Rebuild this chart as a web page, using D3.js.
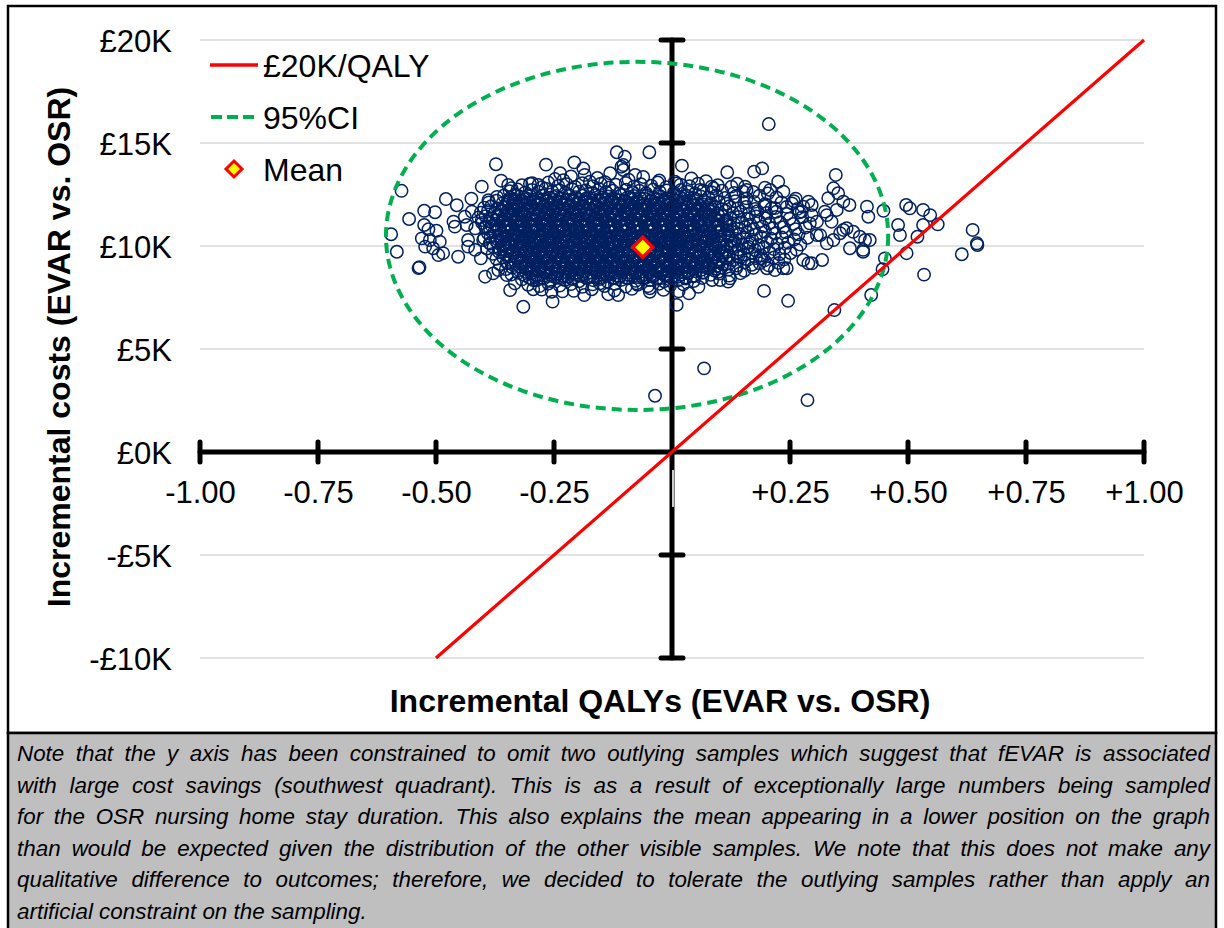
<!DOCTYPE html>
<html>
<head>
<meta charset="utf-8">
<script src="https://cdn.jsdelivr.net/npm/d3@7"></script>
<style>
  html, body { margin: 0; padding: 0; background: #ffffff; }
  svg { display: block; }
  text { font-family: "Liberation Sans", Arial, sans-serif; }
</style>
</head>
<body>
<svg id="chart" width="1224" height="928"></svg>
<script>
// ---------------- DATA ----------------
const xTickValues = [-1, -0.75, -0.5, -0.25, 0, 0.25, 0.5, 0.75, 1];
const xTickLabels = ["-1.00", "-0.75", "-0.50", "-0.25", "", "+0.25", "+0.50", "+0.75", "+1.00"];
const yTickValues = [20, 15, 10, 5, 0, -5, -10];            // £ thousands
const yTickLabels = ["£20K", "£15K", "£10K", "£5K", "£0K", "-£5K", "-£10K"];
const legendLabels = ["£20K/QALY", "95%CI", "Mean"];
const xTitle = "Incremental QALYs (EVAR vs. OSR)";
const yTitle = "Incremental costs (EVAR vs. OSR)";
const wtpThreshold = 20;                 // £K per QALY
const wtpLineQaly = [-0.5, 1.0];         // extent of the threshold line
const meanPoint = [-0.062, 9.94];        // [QALY, £K]
const ciCenter = [-0.074, 10.49];        // 95% CI ellipse centre [QALY, £K]
const ciRadii = [0.532, 8.45];           // ellipse half-widths [QALY, £K]
const noteLines = [
  "Note that the y axis has been constrained to omit two outlying samples which suggest that fEVAR is associated",
  "with large cost savings (southwest quadrant). This is as a result of exceptionally large numbers being sampled",
  "for the OSR nursing home stay duration. This also explains the mean appearing in a lower position on the graph",
  "than would be expected given the distribution of the other visible samples. We note that this does not make any",
  "qualitative difference to outcomes; therefore, we decided to tolerate the outlying samples rather than apply an",
  "artificial constraint on the sampling."
];

// Sparse / outer samples [incremental QALY, incremental cost £K]
const outerSamples = [
[-0.373,13.97],[-0.573,12.68],[-0.557,11.31],[-0.595,10.57],[-0.583,9.72],[-0.535,8.97],[-0.537,8.93],
[-0.525,11.71],[-0.502,11.64],[-0.479,12.28],[-0.456,11.98],[-0.425,12.30],[-0.389,12.22],[-0.403,12.88],
[-0.362,13.17],[-0.347,12.96],[-0.340,12.80],[-0.525,11.02],[-0.516,10.81],[-0.499,10.74],[-0.530,10.37],
[-0.513,10.29],[-0.492,10.21],[-0.523,9.97],[-0.506,9.89],[-0.485,9.65],[-0.495,9.56],[-0.453,9.48],
[-0.460,10.94],[-0.463,11.18],[-0.439,11.42],[-0.424,11.67],[-0.435,11.02],[-0.417,10.86],[-0.403,11.26],
[-0.432,10.29],[-0.432,9.97],[-0.417,9.81],[-0.396,10.94],[-0.386,10.86],[-0.400,10.29],[-0.386,10.13],
[-0.405,9.40],[-0.396,8.51],[-0.379,8.67],[-0.368,8.83],[-0.343,7.86],[-0.333,8.19],[-0.315,7.05],
[-0.350,8.59],[-0.357,11.26],[-0.347,12.23],[-0.333,12.48],
[-0.267,13.95],[-0.207,14.06],[-0.188,13.77],[-0.117,14.55],[-0.100,14.33],[-0.048,14.55],[-0.103,13.93],
[-0.103,13.69],[-0.131,13.53],[0.021,13.90],[-0.253,7.30],[-0.186,7.62],[-0.208,7.82],[-0.114,7.62],
[-0.135,7.66],[-0.047,7.78],[0.010,7.14],[-0.294,7.90],[-0.255,7.78],[-0.237,13.53],[-0.230,13.20],
[-0.283,12.96],[-0.174,13.12],[-0.078,13.45],[-0.107,13.85],[-0.294,8.35],[-0.153,8.19],[-0.075,8.19],
[-0.047,7.95],
[0.117,13.58],[0.174,13.61],[0.191,13.77],[0.197,12.83],[0.225,13.12],[0.236,12.64],[0.155,12.88],
[0.151,12.64],[0.126,12.88],[0.084,12.88],[0.010,13.04],[0.289,12.15],[0.296,11.99],[0.275,11.67],
[0.254,12.07],[0.211,11.83],[0.036,7.70],[0.195,7.82],[0.246,7.34],[0.102,8.35],[0.123,8.43],[0.119,8.27],
[0.201,8.92],[0.218,8.83],[0.236,8.92],[0.289,9.16],[0.278,9.32],[0.190,9.40],[0.162,9.97],[0.140,9.48],
[0.077,9.08],[0.052,9.16],[0.098,8.75],
[0.347,13.45],[0.342,12.80],[0.352,12.56],[0.331,12.32],[0.363,12.15],[0.376,11.99],[0.413,11.91],
[0.416,11.42],[0.448,11.71],[0.496,11.99],[0.504,11.83],[0.532,11.75],[0.547,11.50],[0.563,11.05],
[0.479,11.02],[0.483,10.53],[0.520,10.45],[0.532,11.02],[0.497,9.65],[0.637,10.78],[0.646,10.13],
[0.647,10.05],[0.614,9.60],[0.534,8.61],[0.451,9.40],[0.446,8.87],[0.422,7.62],[0.344,6.89],[0.318,9.32],
[0.296,9.16],[0.405,9.72],[0.419,10.29],[0.398,10.45],[0.377,9.89],[0.384,10.69],[0.370,10.86],[0.356,10.62],
[0.342,10.29],[0.328,10.13],[0.314,10.53],[0.307,11.18],[0.324,11.67],[0.338,11.18],[0.296,11.50],
[0.349,11.75],[0.292,11.10],[0.328,11.50],[0.278,11.91],[0.307,10.53],[0.208,12.72],[0.158,12.72],
[0.088,12.80],[0.059,12.72],[0.006,13.12],[0.409,10.29],[0.405,9.81],[0.363,10.78],[0.243,8.92],
[-0.036,2.73],[0.068,4.06],[0.287,2.52],[0.205,15.92]
];

// Dense core samples, first layer [incremental QALY, incremental cost £K]
const coreSamples = [
[-0.248,13.25],[-0.214,13.38],[-0.158,13.30],[-0.142,13.10],[-0.092,13.22],[-0.061,13.35],[-0.027,13.18],[0.041,13.28],[0.072,13.15],[-0.296,13.05],[-0.185,13.45],
[-0.318,12.95],[-0.301,13.02],[-0.276,12.85],[-0.262,13.08],[-0.241,12.92],[-0.223,13.0],[-0.205,12.87],[-0.19,13.05],[-0.168,12.9],[-0.151,13.02],[-0.133,12.84],[-0.119,12.97],[-0.098,13.06],[-0.081,12.88],[-0.066,13.0],[-0.044,12.93],[-0.03,13.08],[-0.012,12.86],[0.018,12.98],[0.037,12.9],[0.055,13.03],[0.097,12.95],[0.138,13.02],
[-0.344,12.66],[-0.327,12.74],[-0.311,12.6],[-0.297,12.72],[-0.283,12.63],[-0.268,12.78],[-0.254,12.65],[-0.239,12.71],[-0.226,12.58],[-0.211,12.75],[-0.197,12.64],[-0.183,12.7],[-0.169,12.57],[-0.154,12.76],[-0.14,12.62],[-0.126,12.69],[-0.112,12.55],[-0.097,12.73],[-0.083,12.61],[-0.069,12.68],[-0.055,12.56],[-0.04,12.74],[-0.026,12.63],[-0.011,12.7],[0.004,12.59],[0.019,12.72],[0.033,12.64],[0.049,12.55],[0.066,12.7],[0.085,12.6],[0.106,12.68],[0.131,12.57],[0.172,12.62],[0.203,12.55],
[-0.371,12.38],[-0.356,12.45],[-0.342,12.33],[-0.328,12.47],[-0.314,12.36],[-0.3,12.42],[-0.286,12.3],[-0.273,12.46],[-0.259,12.35],[-0.245,12.43],[-0.232,12.31],[-0.218,12.48],[-0.204,12.37],[-0.19,12.44],[-0.177,12.32],[-0.163,12.46],[-0.149,12.34],[-0.136,12.41],[-0.122,12.3],[-0.108,12.47],[-0.094,12.36],[-0.081,12.43],[-0.067,12.31],[-0.053,12.45],[-0.039,12.35],[-0.025,12.42],[-0.012,12.3],[0.003,12.46],[0.017,12.37],[0.031,12.44],[0.046,12.32],[0.061,12.41],[0.077,12.35],[0.094,12.45],[0.112,12.33],[0.134,12.4],[0.158,12.31],[0.185,12.44],[0.221,12.36],[0.262,12.3],
[-0.388,12.12],[-0.372,12.2],[-0.359,12.08],[-0.345,12.17],[-0.331,12.05],[-0.318,12.21],[-0.304,12.1],[-0.29,12.16],[-0.277,12.04],[-0.263,12.19],[-0.249,12.09],[-0.236,12.15],[-0.222,12.03],[-0.208,12.2],[-0.195,12.11],[-0.181,12.18],[-0.167,12.06],[-0.154,12.21],[-0.14,12.1],[-0.126,12.16],[-0.113,12.04],[-0.099,12.19],[-0.085,12.08],[-0.072,12.14],[-0.058,12.02],[-0.044,12.2],[-0.031,12.09],[-0.017,12.17],[-0.003,12.05],[0.011,12.2],[0.025,12.1],[0.039,12.16],[0.054,12.04],[0.068,12.19],[0.083,12.08],[0.099,12.15],[0.116,12.05],[0.134,12.18],[0.153,12.09],[0.174,12.14],[0.197,12.03],[0.232,12.12],[0.258,12.18],
[-0.398,11.86],[-0.383,11.93],[-0.369,11.82],[-0.355,11.9],[-0.341,11.8],[-0.327,11.95],[-0.314,11.84],[-0.3,11.91],[-0.286,11.79],[-0.272,11.94],[-0.259,11.83],[-0.245,11.89],[-0.231,11.78],[-0.217,11.95],[-0.204,11.85],[-0.19,11.92],[-0.176,11.8],[-0.162,11.94],[-0.149,11.84],[-0.135,11.9],[-0.121,11.79],[-0.107,11.96],[-0.094,11.83],[-0.08,11.91],[-0.066,11.8],[-0.052,11.95],[-0.039,11.84],[-0.025,11.9],[-0.011,11.78],[0.003,11.94],[0.017,11.83],[0.031,11.9],[0.046,11.8],[0.06,11.95],[0.075,11.85],[0.09,11.91],[0.106,11.79],[0.122,11.93],[0.139,11.82],[0.157,11.9],[0.176,11.8],[0.196,11.94],[0.218,11.84],[0.243,11.9],[0.266,11.8],
[-0.405,11.62],[-0.39,11.7],[-0.376,11.58],[-0.362,11.67],[-0.348,11.55],[-0.334,11.71],[-0.321,11.6],[-0.307,11.66],[-0.293,11.54],[-0.279,11.7],[-0.266,11.59],[-0.252,11.65],[-0.238,11.53],[-0.224,11.71],[-0.211,11.61],[-0.197,11.68],[-0.183,11.56],[-0.169,11.7],[-0.156,11.6],[-0.142,11.66],[-0.128,11.54],[-0.114,11.72],[-0.101,11.59],[-0.087,11.67],[-0.073,11.55],[-0.059,11.71],[-0.046,11.6],[-0.032,11.66],[-0.018,11.54],[-0.004,11.7],[0.01,11.59],[0.024,11.67],[0.038,11.56],[0.053,11.71],[0.067,11.61],[0.082,11.67],[0.097,11.55],[0.113,11.7],[0.129,11.59],[0.146,11.66],[0.163,11.55],[0.181,11.69],[0.2,11.6],[0.221,11.66],[0.244,11.56],[0.27,11.64],
[-0.41,11.38],[-0.395,11.45],[-0.381,11.33],[-0.367,11.42],[-0.353,11.3],[-0.339,11.46],[-0.326,11.35],[-0.312,11.41],[-0.298,11.29],[-0.284,11.45],[-0.271,11.34],[-0.257,11.4],[-0.243,11.28],[-0.229,11.46],[-0.216,11.36],[-0.202,11.43],[-0.188,11.31],[-0.174,11.45],[-0.161,11.35],[-0.147,11.41],[-0.133,11.29],[-0.119,11.47],[-0.106,11.34],[-0.092,11.42],[-0.078,11.3],[-0.064,11.46],[-0.051,11.35],[-0.037,11.41],[-0.023,11.29],[-0.009,11.45],[0.005,11.34],[0.019,11.42],[0.033,11.31],[0.048,11.46],[0.062,11.36],[0.077,11.42],[0.092,11.3],[0.108,11.45],[0.124,11.34],[0.141,11.41],[0.159,11.3],[0.178,11.44],[0.198,11.35],[0.22,11.41],[0.249,11.32],[0.276,11.4],
[-0.402,11.12],[-0.388,11.2],[-0.374,11.08],[-0.36,11.17],[-0.346,11.05],[-0.332,11.21],[-0.319,11.1],[-0.305,11.16],[-0.291,11.04],[-0.277,11.2],[-0.264,11.09],[-0.25,11.15],[-0.236,11.03],[-0.222,11.21],[-0.209,11.11],[-0.195,11.18],[-0.181,11.06],[-0.167,11.2],[-0.154,11.1],[-0.14,11.16],[-0.126,11.04],[-0.112,11.22],[-0.099,11.09],[-0.085,11.17],[-0.071,11.05],[-0.057,11.21],[-0.044,11.1],[-0.03,11.16],[-0.016,11.04],[-0.002,11.2],[0.012,11.09],[0.026,11.17],[0.04,11.06],[0.055,11.21],[0.069,11.11],[0.084,11.17],[0.099,11.05],[0.115,11.2],[0.131,11.09],[0.148,11.16],[0.166,11.05],[0.185,11.19],[0.206,11.1],[0.229,11.16],[0.257,11.07],
[-0.395,10.88],[-0.381,10.95],[-0.367,10.83],[-0.353,10.92],[-0.339,10.8],[-0.325,10.96],[-0.312,10.85],[-0.298,10.91],[-0.284,10.79],[-0.27,10.95],[-0.257,10.84],[-0.243,10.9],[-0.229,10.78],[-0.215,10.96],[-0.202,10.86],[-0.188,10.93],[-0.174,10.81],[-0.16,10.95],[-0.147,10.85],[-0.133,10.91],[-0.119,10.79],[-0.105,10.97],[-0.092,10.84],[-0.078,10.92],[-0.064,10.8],[-0.05,10.96],[-0.037,10.85],[-0.023,10.91],[-0.009,10.79],[0.005,10.95],[0.019,10.84],[0.033,10.92],[0.047,10.81],[0.062,10.96],[0.076,10.86],[0.091,10.92],[0.106,10.8],[0.122,10.95],[0.138,10.84],[0.155,10.91],[0.173,10.8],[0.192,10.94],[0.213,10.85],[0.236,10.91],[0.262,10.82],[0.283,10.9],
[-0.39,10.62],[-0.376,10.7],[-0.362,10.58],[-0.348,10.67],[-0.334,10.55],[-0.32,10.71],[-0.307,10.6],[-0.293,10.66],[-0.279,10.54],[-0.265,10.7],[-0.252,10.59],[-0.238,10.65],[-0.224,10.53],[-0.21,10.71],[-0.197,10.61],[-0.183,10.68],[-0.169,10.56],[-0.155,10.7],[-0.142,10.6],[-0.128,10.66],[-0.114,10.54],[-0.1,10.72],[-0.087,10.59],[-0.073,10.67],[-0.059,10.55],[-0.045,10.71],[-0.032,10.6],[-0.018,10.66],[-0.004,10.54],[0.01,10.7],[0.024,10.59],[0.038,10.67],[0.052,10.56],[0.067,10.71],[0.081,10.61],[0.096,10.67],[0.111,10.55],[0.127,10.7],[0.143,10.59],[0.16,10.66],[0.178,10.55],[0.197,10.69],[0.218,10.6],[0.241,10.66],[0.268,10.57],
[-0.398,10.38],[-0.384,10.45],[-0.37,10.33],[-0.356,10.42],[-0.342,10.3],[-0.328,10.46],[-0.315,10.35],[-0.301,10.41],[-0.287,10.29],[-0.273,10.45],[-0.26,10.34],[-0.246,10.4],[-0.232,10.28],[-0.218,10.46],[-0.205,10.36],[-0.191,10.43],[-0.177,10.31],[-0.163,10.45],[-0.15,10.35],[-0.136,10.41],[-0.122,10.29],[-0.108,10.47],[-0.095,10.34],[-0.081,10.42],[-0.067,10.3],[-0.053,10.46],[-0.04,10.35],[-0.026,10.41],[-0.012,10.29],[0.002,10.45],[0.016,10.34],[0.03,10.42],[0.044,10.31],[0.059,10.46],[0.073,10.36],[0.088,10.42],[0.103,10.3],[0.119,10.45],[0.135,10.34],[0.152,10.41],[0.17,10.3],[0.189,10.44],[0.21,10.35],[0.233,10.41],[0.259,10.32],[0.287,10.4],
[-0.385,10.12],[-0.371,10.2],[-0.357,10.08],[-0.343,10.17],[-0.329,10.05],[-0.315,10.21],[-0.302,10.1],[-0.288,10.16],[-0.274,10.04],[-0.26,10.2],[-0.247,10.09],[-0.233,10.15],[-0.219,10.03],[-0.205,10.21],[-0.192,10.11],[-0.178,10.18],[-0.164,10.06],[-0.15,10.2],[-0.137,10.1],[-0.123,10.16],[-0.109,10.04],[-0.095,10.22],[-0.082,10.09],[-0.068,10.17],[-0.054,10.05],[-0.04,10.21],[-0.027,10.1],[-0.013,10.16],[0.001,10.04],[0.015,10.2],[0.029,10.09],[0.043,10.17],[0.057,10.06],[0.072,10.21],[0.086,10.11],[0.101,10.17],[0.116,10.05],[0.132,10.2],[0.148,10.09],[0.165,10.16],[0.183,10.05],[0.202,10.19],[0.223,10.1],[0.246,10.16],[0.272,10.07],
[-0.392,9.88],[-0.378,9.95],[-0.364,9.83],[-0.35,9.92],[-0.336,9.8],[-0.322,9.96],[-0.309,9.85],[-0.295,9.91],[-0.281,9.79],[-0.267,9.95],[-0.254,9.84],[-0.24,9.9],[-0.226,9.78],[-0.212,9.96],[-0.199,9.86],[-0.185,9.93],[-0.171,9.81],[-0.157,9.95],[-0.144,9.85],[-0.13,9.91],[-0.116,9.79],[-0.102,9.97],[-0.089,9.84],[-0.075,9.92],[-0.061,9.8],[-0.047,9.96],[-0.034,9.85],[-0.02,9.91],[-0.006,9.79],[0.008,9.95],[0.022,9.84],[0.036,9.92],[0.05,9.81],[0.065,9.96],[0.079,9.86],[0.094,9.92],[0.109,9.8],[0.125,9.95],[0.141,9.84],[0.158,9.91],[0.176,9.8],[0.195,9.94],[0.216,9.85],[0.239,9.91],[0.264,9.82],
[-0.38,9.62],[-0.366,9.7],[-0.352,9.58],[-0.338,9.67],[-0.324,9.55],[-0.31,9.71],[-0.297,9.6],[-0.283,9.66],[-0.269,9.54],[-0.255,9.7],[-0.242,9.59],[-0.228,9.65],[-0.214,9.53],[-0.2,9.71],[-0.187,9.61],[-0.173,9.68],[-0.159,9.56],[-0.145,9.7],[-0.132,9.6],[-0.118,9.66],[-0.104,9.54],[-0.09,9.72],[-0.077,9.59],[-0.063,9.67],[-0.049,9.55],[-0.035,9.71],[-0.022,9.6],[-0.008,9.66],[0.006,9.54],[0.02,9.7],[0.034,9.59],[0.048,9.67],[0.062,9.56],[0.077,9.71],[0.091,9.61],[0.106,9.67],[0.121,9.55],[0.137,9.7],[0.153,9.59],[0.17,9.66],[0.188,9.55],[0.207,9.69],[0.228,9.6],[0.251,9.66],
[-0.372,9.38],[-0.358,9.45],[-0.344,9.33],[-0.33,9.42],[-0.316,9.3],[-0.302,9.46],[-0.289,9.35],[-0.275,9.41],[-0.261,9.29],[-0.247,9.45],[-0.234,9.34],[-0.22,9.4],[-0.206,9.28],[-0.192,9.46],[-0.179,9.36],[-0.165,9.43],[-0.151,9.31],[-0.137,9.45],[-0.124,9.35],[-0.11,9.41],[-0.096,9.29],[-0.082,9.47],[-0.069,9.34],[-0.055,9.42],[-0.041,9.3],[-0.027,9.46],[-0.014,9.35],[0.0,9.41],[0.014,9.29],[0.028,9.45],[0.042,9.34],[0.056,9.42],[0.07,9.31],[0.085,9.46],[0.099,9.36],[0.114,9.42],[0.129,9.3],[0.145,9.45],[0.161,9.34],[0.178,9.41],[0.196,9.3],[0.216,9.44],[0.238,9.35],
[-0.365,9.12],[-0.35,9.2],[-0.336,9.08],[-0.322,9.17],[-0.308,9.05],[-0.294,9.21],[-0.281,9.1],[-0.267,9.16],[-0.253,9.04],[-0.239,9.2],[-0.226,9.09],[-0.212,9.15],[-0.198,9.03],[-0.184,9.21],[-0.171,9.11],[-0.157,9.18],[-0.143,9.06],[-0.129,9.2],[-0.116,9.1],[-0.102,9.16],[-0.088,9.04],[-0.074,9.22],[-0.061,9.09],[-0.047,9.17],[-0.033,9.05],[-0.019,9.21],[-0.006,9.1],[0.008,9.16],[0.022,9.04],[0.036,9.2],[0.05,9.09],[0.064,9.17],[0.078,9.06],[0.093,9.21],[0.107,9.11],[0.122,9.17],[0.137,9.05],[0.153,9.2],[0.169,9.09],[0.186,9.16],[0.205,9.06],[0.226,9.18],
[-0.352,8.88],[-0.338,8.95],[-0.324,8.83],[-0.31,8.92],[-0.296,8.8],[-0.282,8.96],[-0.269,8.85],[-0.255,8.91],[-0.241,8.79],[-0.227,8.95],[-0.214,8.84],[-0.2,8.9],[-0.186,8.78],[-0.172,8.96],[-0.159,8.86],[-0.145,8.93],[-0.131,8.81],[-0.117,8.95],[-0.104,8.85],[-0.09,8.91],[-0.076,8.79],[-0.062,8.97],[-0.049,8.84],[-0.035,8.92],[-0.021,8.8],[-0.007,8.96],[0.006,8.85],[0.02,8.91],[0.034,8.79],[0.048,8.95],[0.062,8.84],[0.076,8.92],[0.09,8.81],[0.105,8.96],[0.12,8.86],[0.136,8.92],[0.153,8.8],[0.172,8.94],
[-0.34,8.62],[-0.326,8.7],[-0.312,8.58],[-0.298,8.67],[-0.284,8.55],[-0.27,8.71],[-0.257,8.6],[-0.243,8.66],[-0.229,8.54],[-0.215,8.7],[-0.202,8.59],[-0.188,8.65],[-0.174,8.53],[-0.16,8.71],[-0.147,8.61],[-0.133,8.68],[-0.119,8.56],[-0.105,8.7],[-0.092,8.6],[-0.078,8.66],[-0.064,8.54],[-0.05,8.72],[-0.037,8.59],[-0.023,8.67],[-0.009,8.55],[0.005,8.71],[0.019,8.61],[0.034,8.67],[0.049,8.55],[0.065,8.7],[0.082,8.6],[0.1,8.66],[0.121,8.56],[0.145,8.68],
[-0.318,8.38],[-0.302,8.45],[-0.287,8.33],[-0.272,8.42],[-0.257,8.3],[-0.242,8.46],[-0.227,8.35],[-0.212,8.41],[-0.197,8.29],[-0.182,8.45],[-0.167,8.34],[-0.152,8.4],[-0.137,8.28],[-0.122,8.46],[-0.107,8.36],[-0.092,8.43],[-0.077,8.31],[-0.062,8.45],[-0.047,8.35],[-0.032,8.41],[-0.017,8.29],[-0.002,8.47],[0.013,8.34],[0.029,8.42],[0.046,8.3],[0.064,8.45],[0.085,8.35],
[-0.305,8.12],[-0.281,8.05],[-0.262,8.18],[-0.238,8.08],[-0.214,8.15],[-0.19,8.02],[-0.168,8.14],[-0.143,8.06],[-0.121,8.16],[-0.098,8.03],[-0.073,8.12],[-0.051,8.05],[-0.027,8.17],[-0.004,8.08],[0.024,8.14],[0.056,8.02],
[-0.276,7.88],[-0.232,7.8],[-0.17,7.9],[-0.122,7.84],[-0.085,7.92],[-0.018,7.87],[0.014,7.8]
];

// Dense core samples, second (interleaved) layer
const coreSamples2 = [
[-0.335,12.27],[-0.321,12.22],[-0.307,12.3],[-0.293,12.25],[-0.279,12.2],[-0.266,12.29],[-0.252,12.24],[-0.238,12.31],[-0.224,12.21],[-0.211,12.27],[-0.197,12.23],[-0.183,12.3],[-0.169,12.2],[-0.156,12.26],[-0.142,12.22],[-0.128,12.29],[-0.114,12.24],[-0.101,12.2],[-0.087,12.28],[-0.073,12.23],[-0.059,12.3],[-0.046,12.21],[-0.032,12.27],[-0.018,12.24],[-0.004,12.29],[0.009,12.22],[0.023,12.28],[0.037,12.2],[0.052,12.26],
[-0.352,12.0],[-0.338,11.96],[-0.324,12.04],[-0.31,11.99],[-0.297,11.95],[-0.283,12.03],[-0.269,11.98],[-0.255,12.05],[-0.242,11.96],[-0.228,12.01],[-0.214,11.97],[-0.2,12.04],[-0.187,11.95],[-0.173,12.0],[-0.159,11.96],[-0.145,12.03],[-0.132,11.98],[-0.118,11.95],[-0.104,12.02],[-0.09,11.97],[-0.077,12.05],[-0.063,11.96],[-0.049,12.01],[-0.035,11.98],[-0.022,12.03],[-0.008,11.96],[0.006,12.02],[0.02,11.95],[0.034,12.0],[0.049,11.97],[0.064,12.03],[0.08,11.96],
[-0.362,11.75],[-0.348,11.71],[-0.334,11.79],[-0.32,11.74],[-0.307,11.7],[-0.293,11.78],[-0.279,11.73],[-0.265,11.8],[-0.252,11.71],[-0.238,11.76],[-0.224,11.72],[-0.21,11.79],[-0.197,11.7],[-0.183,11.75],[-0.169,11.71],[-0.155,11.78],[-0.142,11.73],[-0.128,11.7],[-0.114,11.77],[-0.1,11.72],[-0.087,11.8],[-0.073,11.71],[-0.059,11.76],[-0.045,11.73],[-0.032,11.78],[-0.018,11.71],[-0.004,11.77],[0.01,11.7],[0.024,11.75],[0.039,11.72],[0.054,11.78],[0.07,11.71],[0.087,11.76],
[-0.369,11.5],[-0.355,11.46],[-0.341,11.54],[-0.327,11.49],[-0.314,11.45],[-0.3,11.53],[-0.286,11.48],[-0.272,11.55],[-0.259,11.46],[-0.245,11.51],[-0.231,11.47],[-0.217,11.54],[-0.204,11.45],[-0.19,11.5],[-0.176,11.46],[-0.162,11.53],[-0.149,11.48],[-0.135,11.45],[-0.121,11.52],[-0.107,11.47],[-0.094,11.55],[-0.08,11.46],[-0.066,11.51],[-0.052,11.48],[-0.039,11.53],[-0.025,11.46],[-0.011,11.52],[0.003,11.45],[0.017,11.5],[0.032,11.47],[0.047,11.53],[0.063,11.46],[0.08,11.51],[0.098,11.47],
[-0.372,11.25],[-0.358,11.21],[-0.344,11.29],[-0.33,11.24],[-0.317,11.2],[-0.303,11.28],[-0.289,11.23],[-0.275,11.3],[-0.262,11.21],[-0.248,11.26],[-0.234,11.22],[-0.22,11.29],[-0.207,11.2],[-0.193,11.25],[-0.179,11.21],[-0.165,11.28],[-0.152,11.23],[-0.138,11.2],[-0.124,11.27],[-0.11,11.22],[-0.097,11.3],[-0.083,11.21],[-0.069,11.26],[-0.055,11.23],[-0.042,11.28],[-0.028,11.21],[-0.014,11.27],[0.0,11.2],[0.014,11.25],[0.029,11.22],[0.044,11.28],[0.06,11.21],[0.077,11.26],[0.095,11.22],[0.114,11.27],
[-0.37,11.0],[-0.356,10.96],[-0.342,11.04],[-0.328,10.99],[-0.315,10.95],[-0.301,11.03],[-0.287,10.98],[-0.273,11.05],[-0.26,10.96],[-0.246,11.01],[-0.232,10.97],[-0.218,11.04],[-0.205,10.95],[-0.191,11.0],[-0.177,10.96],[-0.163,11.03],[-0.15,10.98],[-0.136,10.95],[-0.122,11.02],[-0.108,10.97],[-0.095,11.05],[-0.081,10.96],[-0.067,11.01],[-0.053,10.98],[-0.04,11.03],[-0.026,10.96],[-0.012,11.02],[0.002,10.95],[0.016,11.0],[0.031,10.97],[0.046,11.03],[0.062,10.96],[0.079,11.01],[0.097,10.97],[0.116,11.02],
[-0.368,10.75],[-0.354,10.71],[-0.34,10.79],[-0.326,10.74],[-0.313,10.7],[-0.299,10.78],[-0.285,10.73],[-0.271,10.8],[-0.258,10.71],[-0.244,10.76],[-0.23,10.72],[-0.216,10.79],[-0.203,10.7],[-0.189,10.75],[-0.175,10.71],[-0.161,10.78],[-0.148,10.73],[-0.134,10.7],[-0.12,10.77],[-0.106,10.72],[-0.093,10.8],[-0.079,10.71],[-0.065,10.76],[-0.051,10.73],[-0.038,10.78],[-0.024,10.71],[-0.01,10.77],[0.004,10.7],[0.018,10.75],[0.033,10.72],[0.048,10.78],[0.064,10.71],[0.081,10.76],[0.099,10.72],[0.118,10.77],
[-0.366,10.5],[-0.352,10.46],[-0.338,10.54],[-0.324,10.49],[-0.311,10.45],[-0.297,10.53],[-0.283,10.48],[-0.269,10.55],[-0.256,10.46],[-0.242,10.51],[-0.228,10.47],[-0.214,10.54],[-0.201,10.45],[-0.187,10.5],[-0.173,10.46],[-0.159,10.53],[-0.146,10.48],[-0.132,10.45],[-0.118,10.52],[-0.104,10.47],[-0.091,10.55],[-0.077,10.46],[-0.063,10.51],[-0.049,10.48],[-0.036,10.53],[-0.022,10.46],[-0.008,10.52],[0.006,10.45],[0.02,10.5],[0.035,10.47],[0.05,10.53],[0.066,10.46],[0.083,10.51],[0.101,10.47],[0.12,10.52],
[-0.362,10.25],[-0.348,10.21],[-0.334,10.29],[-0.32,10.24],[-0.307,10.2],[-0.293,10.28],[-0.279,10.23],[-0.265,10.3],[-0.252,10.21],[-0.238,10.26],[-0.224,10.22],[-0.21,10.29],[-0.197,10.2],[-0.183,10.25],[-0.169,10.21],[-0.155,10.28],[-0.142,10.23],[-0.128,10.2],[-0.114,10.27],[-0.1,10.22],[-0.087,10.3],[-0.073,10.21],[-0.059,10.26],[-0.045,10.23],[-0.032,10.28],[-0.018,10.21],[-0.004,10.27],[0.01,10.2],[0.024,10.25],[0.039,10.22],[0.054,10.28],[0.07,10.21],[0.087,10.26],[0.105,10.22],[0.124,10.27],
[-0.358,10.0],[-0.344,9.96],[-0.33,10.04],[-0.316,9.99],[-0.303,9.95],[-0.289,10.03],[-0.275,9.98],[-0.261,10.05],[-0.248,9.96],[-0.234,10.01],[-0.22,9.97],[-0.206,10.04],[-0.193,9.95],[-0.179,10.0],[-0.165,9.96],[-0.151,10.03],[-0.138,9.98],[-0.124,9.95],[-0.11,10.02],[-0.096,9.97],[-0.083,10.05],[-0.069,9.96],[-0.055,10.01],[-0.041,9.98],[-0.028,10.03],[-0.014,9.96],[0.0,10.02],[0.014,9.95],[0.028,10.0],[0.043,9.97],[0.058,10.03],[0.074,9.96],[0.091,10.01],[0.109,9.97],[0.128,10.02],
[-0.35,9.75],[-0.336,9.71],[-0.322,9.79],[-0.308,9.74],[-0.295,9.7],[-0.281,9.78],[-0.267,9.73],[-0.253,9.8],[-0.24,9.71],[-0.226,9.76],[-0.212,9.72],[-0.198,9.79],[-0.185,9.7],[-0.171,9.75],[-0.157,9.71],[-0.143,9.78],[-0.13,9.73],[-0.116,9.7],[-0.102,9.77],[-0.088,9.72],[-0.075,9.8],[-0.061,9.71],[-0.047,9.76],[-0.033,9.73],[-0.02,9.78],[-0.006,9.71],[0.008,9.77],[0.022,9.7],[0.036,9.75],[0.051,9.72],[0.066,9.78],[0.082,9.71],[0.099,9.76],[0.117,9.72],
[-0.342,9.5],[-0.328,9.46],[-0.314,9.54],[-0.3,9.49],[-0.287,9.45],[-0.273,9.53],[-0.259,9.48],[-0.245,9.55],[-0.232,9.46],[-0.218,9.51],[-0.204,9.47],[-0.19,9.54],[-0.177,9.45],[-0.163,9.5],[-0.149,9.46],[-0.135,9.53],[-0.122,9.48],[-0.108,9.45],[-0.094,9.52],[-0.08,9.47],[-0.067,9.55],[-0.053,9.46],[-0.039,9.51],[-0.025,9.48],[-0.012,9.53],[0.002,9.46],[0.016,9.52],[0.03,9.45],[0.044,9.5],[0.059,9.47],[0.074,9.53],[0.09,9.46],[0.107,9.51],
[-0.332,9.25],[-0.318,9.21],[-0.304,9.29],[-0.29,9.24],[-0.277,9.2],[-0.263,9.28],[-0.249,9.23],[-0.235,9.3],[-0.222,9.21],[-0.208,9.26],[-0.194,9.22],[-0.18,9.29],[-0.167,9.2],[-0.153,9.25],[-0.139,9.21],[-0.125,9.28],[-0.112,9.23],[-0.098,9.2],[-0.084,9.27],[-0.07,9.22],[-0.057,9.3],[-0.043,9.21],[-0.029,9.26],[-0.015,9.23],[-0.002,9.28],[0.012,9.21],[0.026,9.27],[0.04,9.2],[0.054,9.25],[0.069,9.22],[0.084,9.28],[0.1,9.21],
[-0.322,9.0],[-0.308,8.96],[-0.294,9.04],[-0.28,8.99],[-0.267,8.95],[-0.253,9.03],[-0.239,8.98],[-0.225,9.05],[-0.212,8.96],[-0.198,9.01],[-0.184,8.97],[-0.17,9.04],[-0.157,8.95],[-0.143,9.0],[-0.129,8.96],[-0.115,9.03],[-0.102,8.98],[-0.088,8.95],[-0.074,9.02],[-0.06,8.97],[-0.047,9.05],[-0.033,8.96],[-0.019,9.01],[-0.005,8.98],[0.008,9.03],[0.022,8.96],[0.036,9.02],[0.05,8.95],[0.064,9.0],[0.079,8.97],[0.094,9.03],
[-0.31,8.75],[-0.296,8.71],[-0.282,8.79],[-0.268,8.74],[-0.255,8.7],[-0.241,8.78],[-0.227,8.73],[-0.213,8.8],[-0.2,8.71],[-0.186,8.76],[-0.172,8.72],[-0.158,8.79],[-0.145,8.7],[-0.131,8.75],[-0.117,8.71],[-0.103,8.78],[-0.09,8.73],[-0.076,8.7],[-0.062,8.77],[-0.048,8.72],[-0.035,8.8],[-0.021,8.71],[-0.007,8.76],[0.007,8.73],[0.021,8.78],[0.036,8.71],[0.051,8.77],[0.068,8.72],
[-0.29,8.5],[-0.276,8.46],[-0.262,8.54],[-0.248,8.49],[-0.235,8.45],[-0.221,8.53],[-0.207,8.48],[-0.193,8.55],[-0.18,8.46],[-0.166,8.51],[-0.152,8.47],[-0.138,8.54],[-0.125,8.45],[-0.111,8.5],[-0.097,8.46],[-0.083,8.53],[-0.07,8.48],[-0.056,8.45],[-0.042,8.52],[-0.028,8.47],[-0.015,8.55],[-0.001,8.46],[0.013,8.51],[0.028,8.48],[0.044,8.53]
];

// ---------------- DRAWING ----------------
const FONT = '"Liberation Sans", Arial, sans-serif';
const svg = d3.select("#chart");

const x = d3.scaleLinear().domain([-1, 1]).range([200, 1144]);
const y = d3.scaleLinear().domain([-10, 20]).range([658, 40]);

// outer chart frame and note box
svg.append("rect").attr("x", 8).attr("y", 6).attr("width", 1208).attr("height", 727)
  .attr("fill", "#ffffff").attr("stroke", "#000").attr("stroke-width", 2.5);
svg.append("rect").attr("x", 8).attr("y", 733).attr("width", 1208).attr("height", 200)
  .attr("fill", "#bfbfbf").attr("stroke", "#000").attr("stroke-width", 2.5);

// gridlines
svg.append("g").selectAll("line").data(yTickValues).join("line")
  .attr("x1", x(-1)).attr("x2", x(1))
  .attr("y1", d => y(d)).attr("y2", d => y(d))
  .attr("stroke", "#d9d9d9").attr("stroke-width", 1.5);

// y tick labels via d3 axis
const yAxis = d3.axisLeft(y).tickValues(yTickValues)
  .tickFormat((d, i) => yTickLabels[i]).tickSize(0).tickPadding(28);
const gy = svg.append("g").attr("transform", `translate(${x(-1)},0)`).call(yAxis);
gy.select(".domain").remove();
gy.selectAll("text").attr("font-family", FONT).attr("font-size", 31).attr("fill", "#000")
  .attr("dy", "0.36em");

// x tick labels via d3 axis
const xAxis = d3.axisBottom(x).tickValues(xTickValues)
  .tickFormat((d, i) => xTickLabels[i]).tickSize(0).tickPadding(0);
const gx = svg.append("g").attr("transform", `translate(0,${y(0)})`).call(xAxis);
gx.select(".domain").remove();
gx.selectAll("text").attr("font-family", FONT).attr("font-size", 31).attr("fill", "#000")
  .attr("y", 40).attr("dy", "0.36em");

// thick cross axes
const axisG = svg.append("g").attr("stroke", "#000").attr("stroke-linecap", "round");
axisG.append("line").attr("x1", x(-1)).attr("x2", x(1)).attr("y1", y(0)).attr("y2", y(0))
  .attr("stroke-width", 5);
axisG.append("line").attr("x1", x(0)).attr("x2", x(0)).attr("y1", y(20)).attr("y2", y(-10))
  .attr("stroke-width", 5);
axisG.selectAll(".xt").data(xTickValues.filter(d => d !== 0)).join("line").attr("class", "xt")
  .attr("x1", d => x(d)).attr("x2", d => x(d)).attr("y1", y(0) - 10).attr("y2", y(0) + 10)
  .attr("stroke-width", 5);
axisG.selectAll(".yt").data(yTickValues.filter(d => d !== 0)).join("line").attr("class", "yt")
  .attr("y1", d => y(d)).attr("y2", d => y(d)).attr("x1", x(0) - 11).attr("x2", x(0) + 11)
  .attr("stroke-width", 5);
// small white gap mark under the origin (as in the original)
svg.append("line").attr("x1", x(0) + 1).attr("x2", x(0) + 1).attr("y1", y(0) + 18).attr("y2", y(0) + 55)
  .attr("stroke", "#fff").attr("stroke-width", 1.6);

// scatter points
const allSamples = outerSamples.concat(coreSamples, coreSamples2);
svg.append("g").selectAll("circle").data(allSamples).join("circle")
  .attr("cx", d => x(d[0])).attr("cy", d => y(d[1])).attr("r", 6.2)
  .attr("fill", "none").attr("stroke", "#002060").attr("stroke-width", 1.5);

// 95% CI ellipse
svg.append("ellipse")
  .attr("cx", x(ciCenter[0])).attr("cy", y(ciCenter[1]))
  .attr("rx", x(ciCenter[0] + ciRadii[0]) - x(ciCenter[0]))
  .attr("ry", y(ciCenter[1] - ciRadii[1]) - y(ciCenter[1]))
  .attr("fill", "none").attr("stroke", "#00b050").attr("stroke-width", 4)
  .attr("stroke-dasharray", "10,6");

// WTP threshold line
svg.append("line")
  .attr("x1", x(wtpLineQaly[0])).attr("y1", y(wtpLineQaly[0] * wtpThreshold))
  .attr("x2", x(wtpLineQaly[1])).attr("y2", y(wtpLineQaly[1] * wtpThreshold))
  .attr("stroke", "#ff0000").attr("stroke-width", 3.2);

// mean marker
function diamond(cx, cy, h) {
  return `M${cx},${cy - h}L${cx + h},${cy}L${cx},${cy + h}L${cx - h},${cy}Z`;
}
svg.append("path").attr("d", diamond(x(meanPoint[0]), y(meanPoint[1]), 10))
  .attr("fill", "#ffff00").attr("stroke", "#ff0000").attr("stroke-width", 3.5)
  .attr("stroke-linejoin", "miter");

// legend
const lg = svg.append("g");
lg.append("line").attr("x1", 210).attr("x2", 258).attr("y1", 65).attr("y2", 65)
  .attr("stroke", "#ff0000").attr("stroke-width", 3.5);
lg.append("line").attr("x1", 211).attr("x2", 258).attr("y1", 117).attr("y2", 117)
  .attr("stroke", "#00b050").attr("stroke-width", 4).attr("stroke-dasharray", "11,5");
lg.append("path").attr("d", diamond(234, 169, 8))
  .attr("fill", "#ffff00").attr("stroke", "#ff0000").attr("stroke-width", 3);
lg.selectAll("text").data(legendLabels).join("text")
  .attr("x", 263).attr("y", (d, i) => [65, 117, 169][i]).attr("dy", "0.36em")
  .attr("font-family", FONT).attr("font-size", 32).attr("fill", "#000")
  .text(d => d);

// axis titles
svg.append("text").attr("x", 660).attr("y", 712).attr("text-anchor", "middle")
  .attr("font-family", FONT).attr("font-size", 32).attr("font-weight", "bold").text(xTitle);
svg.append("text").attr("transform", "translate(70,347) rotate(-90)").attr("text-anchor", "middle")
  .attr("font-family", FONT).attr("font-size", 32).attr("font-weight", "bold").text(yTitle);

// note text (justified with word spacing, last line left-aligned)
const noteG = svg.append("g");
const noteLeft = 17, noteRight = 1210;
noteLines.forEach((line, i) => {
  const t = noteG.append("text").attr("x", noteLeft).attr("y", 761 + i * 31.6)
    .attr("font-family", FONT).attr("font-size", 22.4).attr("font-style", "italic")
    .attr("fill", "#000").text(line);
  if (i < noteLines.length - 1) {
    const w = t.node().getComputedTextLength();
    const spaces = (line.match(/ /g) || []).length;
    const extra = (noteRight - noteLeft - w) / spaces;
    if (extra >= 0) t.attr("word-spacing", extra);
    else t.attr("textLength", noteRight - noteLeft).attr("lengthAdjust", "spacingAndGlyphs");
  }
});
</script>
</body>
</html>
